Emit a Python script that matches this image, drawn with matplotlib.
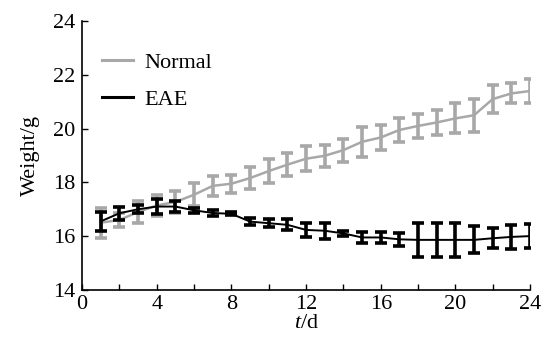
import numpy as np
import matplotlib
matplotlib.use('Agg')
import matplotlib.pyplot as plt

plt.rcParams.update({'font.family': 'Liberation Serif', 'font.size': 16,
                     'mathtext.fontset': 'custom', 'mathtext.it': 'Liberation Serif:italic',
                     'mathtext.rm': 'Liberation Serif'})

# days
days = np.arange(1, 25)

# body weight (g)
normal_mean = [16.5, 16.6, 16.9, 17.14, 17.27, 17.54, 17.87, 17.95, 18.16, 18.42, 18.66, 18.88,
               18.99, 19.2, 19.51, 19.67, 19.95, 20.1, 20.23, 20.38, 20.5, 21.1, 21.31, 21.4]
normal_err = [0.56, 0.25, 0.4, 0.4, 0.4, 0.43, 0.36, 0.34, 0.4, 0.45, 0.43, 0.46,
              0.4, 0.43, 0.56, 0.46, 0.43, 0.46, 0.46, 0.56, 0.62, 0.53, 0.37, 0.43]

eae_mean = [16.55, 16.85, 17.0, 17.1, 17.1, 16.96, 16.86, 16.83, 16.54, 16.48, 16.42, 16.23,
            16.2, 16.1, 15.95, 15.95, 15.88, 15.86, 15.86, 15.86, 15.86, 15.92, 15.97, 16.0]
eae_err = [0.35, 0.25, 0.15, 0.27, 0.19, 0.1, 0.1, 0.06, 0.12, 0.15, 0.2, 0.25,
           0.3, 0.1, 0.2, 0.2, 0.25, 0.63, 0.63, 0.63, 0.5, 0.38, 0.45, 0.45]

fig = plt.figure(figsize=(5.51, 3.41), dpi=100)
ax = fig.add_axes([0.149, 0.150, 0.813, 0.788])

gray = '#a8a8a8'
ax.errorbar(days, normal_mean, yerr=normal_err, color=gray, lw=1.8, elinewidth=2.6,
            capsize=4.5, capthick=2.6, label='Normal', zorder=2)
ax.errorbar(days, eae_mean, yerr=eae_err, color='black', lw=1.4, elinewidth=2.6,
            capsize=4.5, capthick=2.6, label='EAE', zorder=3)

ax.set_xlim(0, 24)
ax.set_ylim(14, 24)
ax.set_xticks(np.arange(0, 25, 4))
ax.set_xticks(np.arange(0, 25, 2), minor=True)
ax.set_yticks(np.arange(14, 25, 2))
ax.tick_params(which='both', direction='in', length=4, width=1)
ax.tick_params(axis='x', pad=4)
ax.tick_params(axis='y', pad=5)
ax.spines['top'].set_visible(False)
ax.spines['right'].set_visible(False)
ax.spines['left'].set_linewidth(1.2)
ax.spines['bottom'].set_linewidth(1.2)

ax.set_xlabel(r'$\mathit{t}$/d', labelpad=0)
ax.set_ylabel('Weight/g', labelpad=9)

handles = [plt.Line2D([], [], color=gray, lw=2.2),
           plt.Line2D([], [], color='black', lw=2.2)]
ax.legend(handles, ['Normal', 'EAE'], loc='upper left', frameon=False,
          handlelength=1.4, handletextpad=0.5, borderpad=0, borderaxespad=0,
          labelspacing=0.75, bbox_to_anchor=(0.045, 0.885))

fig.savefig('out.png', dpi=100)
